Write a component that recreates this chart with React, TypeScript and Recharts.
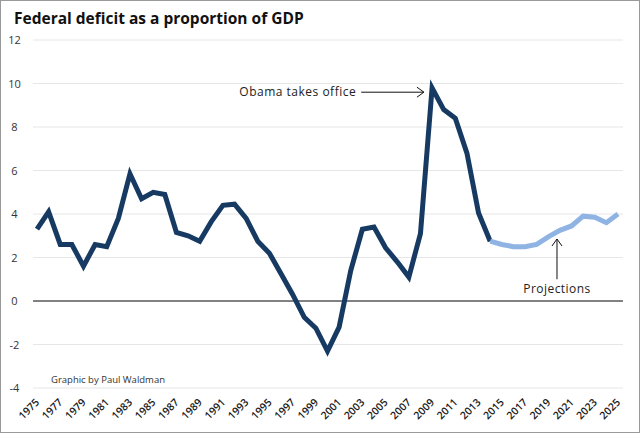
import React from "react";
import { LineChart, Line, XAxis, YAxis, CartesianGrid, ReferenceLine } from "recharts";

// fiscal years on the x axis
const years = [
  1975, 1976, 1977, 1978, 1979, 1980, 1981, 1982, 1983, 1984, 1985, 1986, 1987,
  1988, 1989, 1990, 1991, 1992, 1993, 1994, 1995, 1996, 1997, 1998, 1999, 2000,
  2001, 2002, 2003, 2004, 2005, 2006, 2007, 2008, 2009, 2010, 2011, 2012, 2013,
  2014, 2015, 2016, 2017, 2018, 2019, 2020, 2021, 2022, 2023, 2024, 2025,
];

// actual deficit, % of GDP (1975-2014)
const actual = [
  3.3, 4.1, 2.6, 2.6, 1.6, 2.6, 2.5, 3.8, 5.85, 4.7, 5.0, 4.9, 3.15, 3.0, 2.75,
  3.65, 4.4, 4.45, 3.8, 2.75, 2.2, 1.25, 0.3, -0.75, -1.25, -2.3, -1.2, 1.4, 3.3,
  3.4, 2.45, 1.8, 1.1, 3.1, 9.8, 8.8, 8.4, 6.8, 4.05, 2.75,
];

// CBO projections (2014-2025), starts at 2014 so the lines meet
const projected = [2.75, 2.6, 2.5, 2.5, 2.6, 2.95, 3.25, 3.45, 3.9, 3.85, 3.6, 4.0];

const yTicks = [-4, -2, 0, 2, 4, 6, 8, 10, 12];
const xTicks = years.filter((y) => y % 2 === 1);

const data = years.map((year, i) => ({
  year,
  actual: i < actual.length ? actual[i] : null,
  projected: i >= actual.length - 1 ? projected[i - (actual.length - 1)] : null,
}));

const FONT = "'Open Sans', sans-serif";

const YTick = (props: any) => (
  <text
    x={props.x - 18.5}
    y={props.y}
    dy={4}
    textAnchor="middle"
    fontSize={11}
    fontFamily={FONT}
    fill="#333"
  >
    {props.payload.value}
  </text>
);

const XTick = (props: any) => (
  <text
    x={props.x + 3}
    y={props.y + 15}
    textAnchor="end"
    fontSize={10.5}
    fontWeight={600}
    fontFamily={FONT}
    fill="#1a1a1a"
    transform={`rotate(-45 ${props.x + 3} ${props.y + 15})`}
  >
    {props.payload.value}
  </text>
);

// horizontal arrow with label on its left
const ObamaArrow = (props: any) => {
  const { x1, y1, x2, y2 } = props;
  return (
    <g>
      <line x1={x1} y1={y1} x2={x2} y2={y2} stroke="#111" strokeWidth={1} />
      <polyline
        points={`${x2 - 7},${y2 - 5} ${x2},${y2} ${x2 - 7},${y2 + 5}`}
        fill="none"
        stroke="#111"
        strokeWidth={1}
      />
      <text
        x={x1 - 5}
        y={y1 + 4}
        textAnchor="end"
        fontSize={12}
        letterSpacing={0.5}
        fontFamily={FONT}
        fill="#222"
      >
        Obama takes office
      </text>
    </g>
  );
};

// vertical arrow pointing up with label underneath
const ProjArrow = (props: any) => {
  const { x1, y1, x2, y2 } = props;
  return (
    <g>
      <line x1={x1} y1={y1} x2={x2} y2={y2} stroke="#111" strokeWidth={1} />
      <polyline
        points={`${x2 - 5},${y2 + 7} ${x2},${y2} ${x2 + 5},${y2 + 7}`}
        fill="none"
        stroke="#111"
        strokeWidth={1}
      />
      <text
        x={x1}
        y={y1 + 14}
        textAnchor="middle"
        fontSize={12}
        letterSpacing={0.45}
        fontFamily={FONT}
        fill="#222"
      >
        Projections
      </text>
    </g>
  );
};

export default function App() {
  return (
    <div
      style={{
        position: "absolute",
        left: 0,
        top: 0,
        width: 640,
        height: 433,
        boxSizing: "border-box",
        border: "1px solid #999",
        background: "#fff",
      }}
    >
      <div
        style={{
          position: "absolute",
          left: 13,
          top: 6,
          fontFamily: FONT,
          fontWeight: 700,
          fontSize: 15.5,
          color: "#111",
        }}
      >
        Federal deficit as a proportion of GDP
      </div>
      <div
        style={{
          position: "absolute",
          left: 50,
          top: 372,
          fontFamily: FONT,
          fontSize: 9.5,
          color: "#333",
        }}
      >
        Graphic by Paul Waldman
      </div>
      <div style={{ position: "absolute", left: -1, top: -1 }}>
        <LineChart
          width={640}
          height={433}
          data={data}
          margin={{ top: 40, right: 17, bottom: 0, left: 0 }}
        >
          <CartesianGrid vertical={false} stroke="#e6e6e6" />
          <XAxis
            dataKey="year"
            type="number"
            domain={[1975, 2025]}
            ticks={xTicks}
            interval={0}
            height={45}
            padding={{ left: 4, right: 5 }}
            axisLine={false}
            tickLine={false}
            tickSize={0}
            tickMargin={0}
            tick={<XTick />}
          />
          <YAxis
            domain={[-4, 12]}
            ticks={yTicks}
            width={33}
            axisLine={false}
            tickLine={false}
            tickSize={0}
            tickMargin={0}
            tick={<YTick />}
          />
          <ReferenceLine y={0} stroke="#111" strokeWidth={1} />
          <Line
            dataKey="actual"
            stroke="#173a63"
            strokeWidth={5}
            dot={false}
            isAnimationActive={false}
          />
          <Line
            dataKey="projected"
            stroke="#8fb4e3"
            strokeWidth={5}
            dot={false}
            isAnimationActive={false}
          />
          <ReferenceLine
            segment={[
              { x: 2002.9, y: 9.6 },
              { x: 2008.3, y: 9.6 },
            ]}
            shape={<ObamaArrow />}
          />
          <ReferenceLine
            segment={[
              { x: 2019.75, y: 1.0 },
              { x: 2019.75, y: 2.85 },
            ]}
            shape={<ProjArrow />}
          />
        </LineChart>
      </div>
    </div>
  );
}
